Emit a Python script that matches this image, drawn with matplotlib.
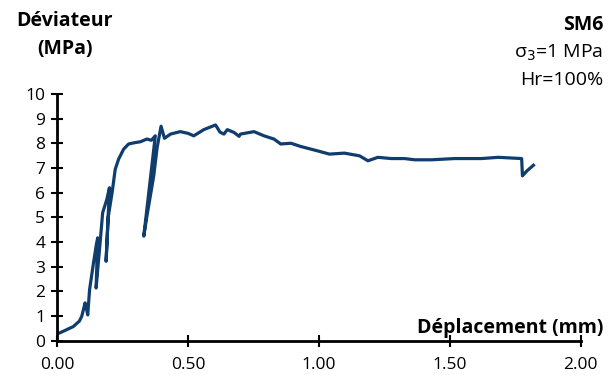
import matplotlib.pyplot as plt

# displacement (mm) and deviator (MPa)
deplacement = [0.005, 0.03, 0.062, 0.085, 0.094, 0.107, 0.112, 0.117, 0.124, 0.139, 0.150, 0.155,
               0.149, 0.156, 0.162, 0.174, 0.19, 0.2, 0.187, 0.195, 0.21, 0.222, 0.235, 0.254,
               0.273, 0.295, 0.318, 0.343, 0.36, 0.375, 0.331, 0.343, 0.369, 0.382, 0.397, 0.41,
               0.433, 0.47, 0.50, 0.522, 0.56, 0.605, 0.622, 0.637, 0.65, 0.675, 0.695, 0.70,
               0.752, 0.79, 0.828, 0.854, 0.893, 0.93, 0.995, 1.04, 1.097, 1.155, 1.187, 1.225,
               1.276, 1.327, 1.365, 1.43, 1.518, 1.62, 1.685, 1.774, 1.777, 1.794, 1.819]
deviateur = [0.3, 0.42, 0.58, 0.8, 0.99, 1.54, 1.3, 1.05, 2.07, 3.16, 3.9, 4.17,
             2.14, 3.0, 3.7, 5.19, 5.73, 6.2, 3.22, 5.0, 6.0, 6.95, 7.36, 7.76,
             7.97, 8.02, 8.06, 8.17, 8.12, 8.3, 4.24, 5.05, 6.68, 7.83, 8.69, 8.2,
             8.37, 8.47, 8.4, 8.3, 8.55, 8.74, 8.45, 8.37, 8.55, 8.44, 8.28, 8.37,
             8.47, 8.3, 8.17, 7.97, 8.0, 7.87, 7.69, 7.56, 7.6, 7.49, 7.29, 7.43,
             7.38, 7.38, 7.33, 7.33, 7.38, 7.38, 7.43, 7.38, 6.68, 6.88, 7.11]

xticks = [0, 0.5, 1.0, 1.5, 2.0]
yticks = list(range(0, 11))

plt.rcParams['font.family'] = ['Open Sans', 'DejaVu Sans']

fig = plt.figure(figsize=(6.14, 3.83), dpi=100)
ax = fig.add_axes([0.093, 0.110, 0.853, 0.645])

ax.plot(deplacement, deviateur, color='#0f3d6e', lw=2.3, solid_joinstyle='round')

ax.set_xlim(0, 2.0)
ax.set_ylim(0, 10)
ax.set_xticks(xticks)
ax.set_xticklabels([f'{v:.2f}' for v in xticks])
ax.set_yticks(yticks)

for s in ['top', 'right']:
    ax.spines[s].set_visible(False)
for s in ['left', 'bottom']:
    ax.spines[s].set_linewidth(2)
    ax.spines[s].set_clip_on(False)
ax.tick_params(direction='inout', length=9, width=1.5, labelsize=12.5)
ax.tick_params(axis='x', pad=7)
ax.tick_params(axis='y', pad=4)

fig.text(0.027, 0.944, 'Déviateur', fontsize=14, fontweight='bold', va='center', ha='left')
fig.text(0.106, 0.872, '(MPa)', fontsize=14, fontweight='bold', va='center', ha='center')
fig.text(0.982, 0.935, 'SM6', fontsize=14, fontweight='bold', va='center', ha='right')
fig.text(0.982, 0.862, r'σ$_3$=1 MPa', fontsize=14, va='center', ha='right')
fig.text(0.982, 0.79, 'Hr=100%', fontsize=14, va='center', ha='right')
fig.text(0.982, 0.143, 'Déplacement (mm)', fontsize=14, fontweight='bold', va='center', ha='right')

fig.savefig('out.png', dpi=100)
